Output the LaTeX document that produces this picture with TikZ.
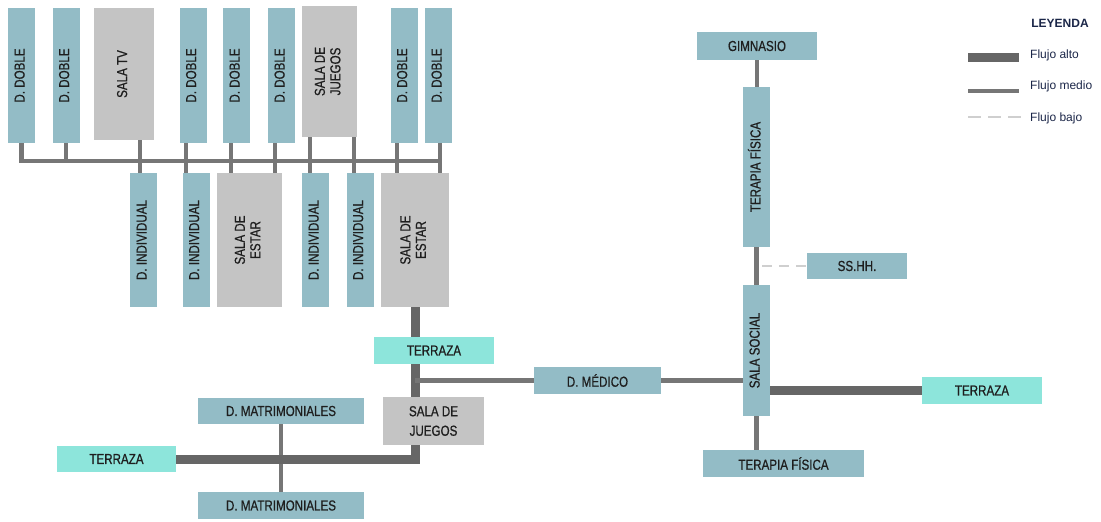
\documentclass[tikz,border=0pt]{standalone}
\usepackage{fontspec}
\setmainfont{Liberation Sans}
\newfontfamily\cond[FakeStretch=0.8,FakeBold=0.7]{Liberation Sans}
\definecolor{cAzul}{HTML}{93BCC6}
\definecolor{cGris}{HTML}{C4C4C4}
\definecolor{cCian}{HTML}{8DE5DB}
\definecolor{cAlto}{HTML}{666666}
\definecolor{cMedio}{HTML}{767676}
\definecolor{cBajo}{HTML}{CFCFCF}
\definecolor{txt}{HTML}{1E1E1E}
\definecolor{txtley}{HTML}{1B2648}
\newcommand{\vlabel}[1]{\rotatebox{90}{\begin{tabular}{@{}c@{}}#1\end{tabular}}}
\tikzset{
  hab/.style={inner sep=0pt, text=txt, align=center,
    font=\cond\fontsize{14.5}{15.5}\selectfont},
  azul/.style={hab, fill=cAzul},
  gris/.style={hab, fill=cGris},
  terraza/.style={hab, fill=cCian},
  tam/.style 2 args={minimum width=#1pt, minimum height=#2pt},
  alto/.style={line width=9pt, draw=cAlto},
  medio/.style={line width=4.5pt, draw=cMedio},
  bajo/.style={line width=1.8pt, draw=cBajo, dash pattern=on 10pt off 7pt},
  leg/.style={inner sep=0pt, anchor=west, text=txtley, font=\fontsize{12}{14}\selectfont}
}
\begin{document}
\begin{tikzpicture}[x=1pt,y=-1pt]
  \useasboundingbox (0,0) rectangle (1101,522);

  % fila superior
  \foreach \n/\x in {d1/21.5, d2/66, d3/193, d4/236.5, d5/281.5, d6/404, d7/438.5}
    \node[azul,tam={27}{135}] (\n) at (\x,75.5) {\vlabel{D. DOBLE}};
  \node[gris,tam={60}{132}] (tv) at (124,74) {\vlabel{SALA TV}};
  \node[gris,tam={55}{131}] (jg1) at (329.5,71.5) {\vlabel{SALA DE\\JUEGOS}};

  % fila inferior
  \foreach \n/\x in {i1/143.5, i2/196, i3/315.5, i4/360}
    \node[azul,tam={27}{134}] (\n) at (\x,240) {\vlabel{D. INDIVIDUAL}};
  \node[gris,tam={65}{134}] (es1) at (249.5,240) {\vlabel{SALA DE\\ESTAR}};
  \node[gris,tam={68}{134}] (es2) at (415,240) {\vlabel{SALA DE\\ESTAR}};

  % pasillo
  \coordinate (bus) at (440,161);
  \draw[medio] (d1.south) |- (bus);
  \draw[medio] (d2.south) -- (d2.south |- bus);
  \foreach \a/\b/\x in {tv/i1/140, d3/i2/186, d4/es1/231, d5/es1/275,
                        jg1/i3/310, jg1/i4/354, d6/es2/397, d7/es2/440} {
    \coordinate (s) at (\x,0);
    \draw[medio] (\a.south -| s) -- (\b.north -| s);
  }

  % centro
  \node[terraza,tam={120}{27}] (tm) at (434,350.5) {TERRAZA};
  \node[gris,tam={101}{48}] (jg2) at (433.5,421) {SALA DE\\[4pt]JUEGOS};
  \node[azul,tam={127}{27}] (med) at (597.5,380.5) {D. MÉDICO};
  \node[azul,tam={166}{26}] (m1) at (281,411) {D. MATRIMONIALES};
  \node[azul,tam={166}{27}] (m2) at (281,505.5) {D. MATRIMONIALES};
  \node[terraza,tam={119}{26}] (tl) at (116.5,459) {TERRAZA};

  % derecha
  \node[azul,tam={120}{28}] (gim) at (757,46) {GIMNASIO};
  \node[azul,tam={27}{160}] (tf1) at (756.5,167) {\vlabel{TERAPIA FÍSICA}};
  \node[azul,tam={100}{26}] (ss) at (857,266) {SS.HH.};
  \node[azul,tam={27}{131}] (soc) at (756.5,350.5) {\vlabel{SALA SOCIAL}};
  \node[terraza,tam={120}{27}] (tr) at (982,390.5) {TERRAZA};
  \node[azul,tam={161}{27}] (tf2) at (783.5,463.5) {TERAPIA FÍSICA};

  \draw[medio] (m1.south) -- (m2.north);
  \draw[alto] (es2.south) -- (es2.south |- tm.north);
  \draw[alto] (tm.south -| es2.south) -- (jg2.north -| es2.south);
  \draw[alto] (jg2.south -| es2.south) |- (tl.east);
  \draw[medio] (med.west) -- (med.west -| es2.south);
  \draw[medio] (med.east) -- (med.east -| soc.west);
  \draw[alto] (tr.west) -- (tr.west -| soc.east);
  \draw[medio] (soc.south) -- (soc.south |- tf2.north);
  \draw[medio] (gim.south) -- (gim.south |- tf1.north);
  \draw[medio] (tf1.south) -- (soc.north);
  \draw[bajo] ([xshift=-8pt]ss.west -| tf1.east) -- (ss.west);

  % leyenda
  \node[inner sep=0pt, text=txtley, font=\bfseries\fontsize{12}{14}\selectfont] (ley) at (1060,23) {LEYENDA};
  \node[leg] (la) at (1030,55) {Flujo alto};
  \node[leg] (lm) at (1030,86) {Flujo medio};
  \node[leg] (lb) at (1030,118) {Flujo bajo};
  \draw[alto] (968,57) -- ++(51,0);
  \draw[medio] (968,91) -- ++(51,0);
  \draw[bajo, dash pattern=on 13pt off 7pt] (968,117) -- ++(54,0);
\end{tikzpicture}
\end{document}
